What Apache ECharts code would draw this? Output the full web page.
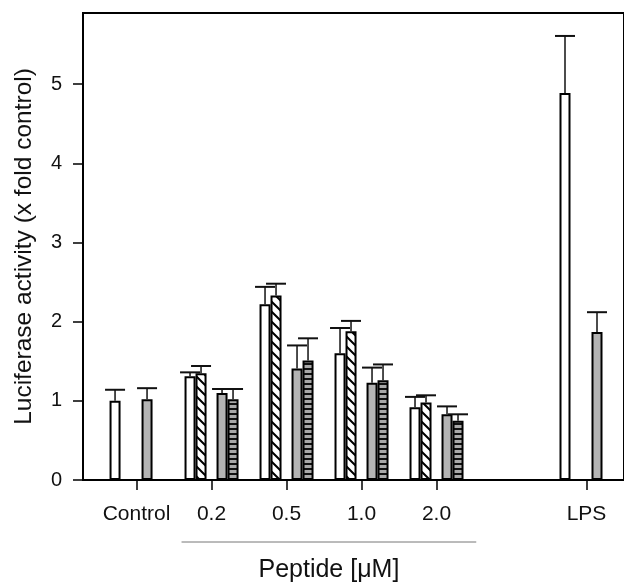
<!DOCTYPE html>
<html>
<head>
<meta charset="utf-8">
<script src="https://cdn.jsdelivr.net/npm/echarts@6/dist/echarts.min.js"></script>
<style>
  html, body { margin: 0; padding: 0; background: #fff; }
  #main { width: 624px; height: 583px; }
</style>
</head>
<body>
<div id="main"></div>
<script>
// x positions: 0..6, slot 5 is the empty gap before LPS
var categories = ['Control', '0.2', '0.5', '1.0', '2.0', '', 'LPS'];
var xTicks = [0, 1, 2, 3, 4, 6];
var yTicks = [0, 1, 2, 3, 4, 5];

// means and upper error (x fold control)
var whiteMean  = [1.00, 1.31, 2.22, 1.60, 0.92, null, 4.89];
var whiteErr   = [0.14, 0.05, 0.22, 0.32, 0.13, null, 0.72];
var hatchMean  = [null, 1.35, 2.33, 1.88, 0.98, null, null];
var hatchErr   = [null, 0.09, 0.15, 0.13, 0.09, null, null];
var grayMean   = [1.02, 1.10, 1.41, 1.23, 0.83, null, 1.87];
var grayErr    = [0.14, 0.05, 0.29, 0.19, 0.10, null, 0.25];
var stripeMean = [null, 1.02, 1.51, 1.26, 0.75, null, null];
var stripeErr  = [null, 0.13, 0.28, 0.20, 0.08, null, null];

// bracket under the peptide doses (in x axis units)
var peptideSpan = [0.6, 4.53];

var font = 'Liberation Sans, Arial, Helvetica, sans-serif';

function hatchPattern() {
  var s = 10;
  var c = document.createElement('canvas');
  c.width = s; c.height = s;
  var ctx = c.getContext('2d');
  ctx.fillStyle = '#fff';
  ctx.fillRect(0, 0, s, s);
  ctx.strokeStyle = '#000';
  ctx.lineWidth = 2;
  ctx.beginPath();
  for (var k = -1; k <= 1; k++) {
    ctx.moveTo(-2, -2 + s * k);
    ctx.lineTo(s + 2, s + 2 + s * k);
  }
  ctx.stroke();
  return c;
}

function stripePattern() {
  var c = document.createElement('canvas');
  c.width = 4; c.height = 5;
  var ctx = c.getContext('2d');
  ctx.fillStyle = '#a9a9a9';
  ctx.fillRect(0, 0, 4, 5);
  ctx.fillStyle = '#111';
  ctx.fillRect(0, 3, 4, 2);
  return c;
}

function pairs(arr) {
  var out = [];
  arr.forEach(function (v, i) { if (v != null) out.push([i, v]); });
  return out;
}

function errPairs(mean, err) {
  var out = [];
  mean.forEach(function (v, i) { if (v != null) out.push([i, v, err[i]]); });
  return out;
}

function errorBar(offset) {
  return function (params, api) {
    var x = api.value(0), m = api.value(1), e = api.value(2);
    var base = api.coord([x, m]);
    var top = api.coord([x, m + e]);
    var cx = base[0] + offset;
    return {
      type: 'group',
      children: [
        { type: 'line', shape: { x1: cx, y1: base[1], x2: cx, y2: top[1] }, style: { stroke: '#111', lineWidth: 1.5 } },
        { type: 'line', shape: { x1: cx - 10, y1: top[1], x2: cx + 10, y2: top[1] }, style: { stroke: '#111', lineWidth: 2 } }
      ]
    };
  };
}

function barSeries(data, color) {
  return {
    type: 'bar',
    data: data,
    barWidth: 11,
    barGap: '0%',
    itemStyle: { color: color, borderColor: '#000', borderWidth: 2 },
    z: 2
  };
}

function errSeries(data, offset) {
  return {
    type: 'custom',
    data: data,
    encode: { x: 0, y: 1 },
    renderItem: errorBar(offset),
    z: 3
  };
}

var chart = echarts.init(document.getElementById('main'));
var option = {
  animation: false,
  backgroundColor: '#fff',
  grid: {
    left: 83, top: 13, right: -10, bottom: 103,
    show: true, borderColor: '#000', borderWidth: 2
  },
  xAxis: {
    type: 'value',
    min: -0.714,
    max: 6.5,
    splitLine: { show: false },
    axisLine: { show: true, onZero: false, lineStyle: { color: '#000', width: 2 } },
    axisTick: { show: true, customValues: xTicks, length: 10, lineStyle: { color: '#000', width: 1.5 } },
    axisLabel: {
      customValues: xTicks,
      margin: 24,
      color: '#111',
      fontSize: 21,
      fontFamily: font,
      formatter: function (v) { return categories[Math.round(v)]; }
    }
  },
  yAxis: {
    type: 'value',
    min: 0,
    max: 5.9,
    splitLine: { show: false },
    axisLine: { show: true, onZero: false, lineStyle: { color: '#000', width: 2 } },
    axisTick: { show: true, customValues: yTicks, length: 10, lineStyle: { color: '#000', width: 1.5 } },
    axisLabel: { customValues: yTicks, margin: 21, color: '#111', fontSize: 20, fontFamily: font },
    name: 'Luciferase activity (x fold control)',
    nameLocation: 'middle',
    nameGap: 46,
    nameTextStyle: { color: '#111', fontSize: 24.5, fontFamily: font }
  },
  series: [
    barSeries(pairs(whiteMean), '#fff'),
    barSeries(pairs(hatchMean), { image: hatchPattern(), repeat: 'repeat' }),
    // empty slot, makes the gap between the two pairs
    { type: 'bar', data: [], barWidth: 10, barGap: '0%' },
    barSeries(pairs(grayMean), '#b4b4b4'),
    barSeries(pairs(stripeMean), { image: stripePattern(), repeat: 'repeat' }),
    errSeries(errPairs(whiteMean, whiteErr), -21.5),
    errSeries(errPairs(hatchMean, hatchErr), -10.5),
    errSeries(errPairs(grayMean, grayErr), 10.5),
    errSeries(errPairs(stripeMean, stripeErr), 21.5)
  ]
};
chart.setOption(option);

// "Peptide" bracket and label under the axis
var x0 = chart.convertToPixel({ xAxisIndex: 0 }, peptideSpan[0]);
var x1 = chart.convertToPixel({ xAxisIndex: 0 }, peptideSpan[1]);
chart.setOption({
  graphic: [
    { type: 'line', shape: { x1: x0, y1: 542, x2: x1, y2: 542 }, style: { stroke: '#777', lineWidth: 1 } },
    {
      type: 'text',
      x: (x0 + x1) / 2, y: 570,
      style: { text: 'Peptide [\u03bcM]', fill: '#111', fontSize: 25, fontFamily: font, align: 'center', verticalAlign: 'middle' }
    }
  ]
});
</script>
</body>
</html>
